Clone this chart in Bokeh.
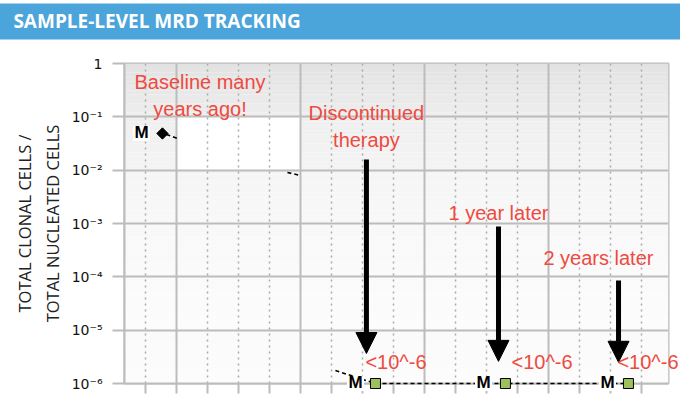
from bokeh.plotting import figure
from bokeh.models import FixedTicker, Arrow, NormalHead
from bokeh.core.properties import value
from bokeh.embed import file_html
from bokeh.resources import INLINE

# ---------------- data ----------------
title_text = "SAMPLE-LEVEL MRD TRACKING"
y_label = "TOTAL CLONAL CELLS /\nTOTAL NUCLEATED CELLS"

y_ticks = [1e-6, 1e-5, 1e-4, 1e-3, 1e-2, 1e-1, 1]
y_tick_labels = ["10⁻⁶", "10⁻⁵", "10⁻⁴", "10⁻³", "10⁻²", "10⁻¹", "1"]
x_major = [1, 2, 3, 4]
x_minor = [0.75, 1.25, 1.5, 1.75, 2.25, 2.5, 2.75, 3.25, 3.5, 3.75, 4.25, 4.5, 4.75]

baseline_x = [0.887]
baseline_y = [0.0487]

followup_x = [2.605, 3.653, 4.645]
followup_y = [1e-6, 1e-6, 1e-6]

m_x = [0.718, 2.444, 3.476, 4.476]
m_y = [0.0487, 1e-6, 1e-6, 1e-6]

# visible pieces of the dashed trend line
trend_x = [[0.919, 1.008], [1.895, 2.0], [2.282, 2.605], [2.605, 4.645]]
trend_y = [[0.0467, 0.0393], [0.00904, 0.00794], [1.75e-6, 1e-6], [1e-6, 1e-6]]

arrow_x = [2.532, 3.597, 4.565]
arrow_top = [0.0158, 8.8e-4, 8.5e-5]
arrow_tip = [3.65e-6, 2.6e-6, 2.5e-6]

note_text = ["Baseline many\nyears ago!", "Discontinued\ntherapy", "1 year later", "2 years later"]
note_x = [1.19, 2.532, 3.597, 4.403]
note_y = [0.251, 0.0659, 0.0016, 2.21e-4]

lod_text = ["<10^-6", "<10^-6", "<10^-6"]
lod_x = [2.524, 3.702, 4.556]
lod_y = [2.48e-6, 2.48e-6, 2.48e-6]

# ---------------- styles ----------------
RED = "#ef4a40"
GRID = "#bcbcbc"
FONT = "Liberation Sans"
X0, X1 = 0.581, 4.968

p = figure(width=680, height=400, x_range=(X0, X1), y_range=(1e-6, 1),
           y_axis_type="log", toolbar_location=None, output_backend="svg",
           min_border_left=124, min_border_right=12, min_border_top=63, min_border_bottom=17)
p.background_fill_color = "white"
p.border_fill_color = "white"
p.outline_line_color = GRID
p.outline_line_width = 2

# title bar (header band above the frame)
p.quad(left=[-0.5], right=[5.2], bottom=[10 ** 0.45], top=[10 ** 1.125],
       fill_color="#4ba4da", line_color=None, level="overlay")
p.text(x=[-0.315], y=[10 ** 0.79], text=[title_text], text_color="white",
       text_font=value("Open Sans"), text_font_style="bold",
       text_font_size="19px", text_baseline="middle", text_align="left",
       level="overlay")

# gradient background (styling only)
rows = [(226, 238), (239, 244), (245, 248), (248, 250), (250, 252), (250, 252)]
qb, qt, qc = [], [], []
steps = 12
for i, (c0, c1) in enumerate(rows):
    for s in range(steps):
        a = -i - s / steps
        b = -i - (s + 1) / steps
        g = int(round(c0 + (c1 - c0) * (s + 0.5) / steps))
        qt.append(10 ** a)
        qb.append(10 ** b)
        qc.append("#%02x%02x%02x" % (g, g, g))
p.quad(left=X0, right=X1, top=qt, bottom=qb, fill_color=qc,
       line_color=None, level="image")
p.quad(left=[1.0], right=[2.0], top=[10 ** -0.994], bottom=[10 ** -2.0],
       fill_color="white", line_color=None, level="image")

# axes
p.xaxis.ticker = FixedTicker(ticks=x_major, minor_ticks=x_minor)
p.xaxis.major_label_overrides = {v: "" for v in x_major}
p.xaxis.major_label_text_font_size = "1px"
p.xaxis.major_label_standoff = 0
p.xaxis.axis_line_color = GRID
p.xaxis.axis_line_width = 2
p.xaxis.major_tick_line_color = GRID
p.xaxis.major_tick_line_width = 2
p.xaxis.minor_tick_line_color = GRID
p.xaxis.minor_tick_line_width = 2
p.xaxis.major_tick_in = 0
p.xaxis.major_tick_out = 10
p.xaxis.minor_tick_in = 0
p.xaxis.minor_tick_out = 10

p.yaxis.ticker = FixedTicker(ticks=y_ticks, minor_ticks=[])
p.yaxis.major_label_overrides = dict(zip(y_ticks, y_tick_labels))
p.yaxis.major_label_text_font = "DejaVu Sans"
p.yaxis.major_label_text_font_size = "14px"
p.yaxis.major_label_text_color = "#111111"
p.yaxis.major_label_standoff = 10
p.yaxis.axis_line_color = GRID
p.yaxis.axis_line_width = 2
p.yaxis.major_tick_line_color = GRID
p.yaxis.major_tick_line_width = 2
p.yaxis.major_tick_in = 0
p.yaxis.major_tick_out = 12
p.yaxis.minor_tick_line_color = None
p.yaxis.axis_label = y_label
p.yaxis.axis_label_text_font = "Open Sans"
p.yaxis.axis_label_text_font_size = "16.5px"
p.yaxis.axis_label_text_font_style = "normal"
p.yaxis.axis_label_text_color = "#222222"
p.yaxis.axis_label_standoff = 5

# grids
p.xgrid.ticker = p.xaxis.ticker
p.xgrid.grid_line_color = GRID
p.xgrid.grid_line_width = 2
p.xgrid.minor_grid_line_color = "#aaaaaa"
p.xgrid.minor_grid_line_dash = "2 4"
p.xgrid.minor_grid_line_width = 1.5
p.ygrid.ticker = p.yaxis.ticker
p.ygrid.grid_line_color = GRID
p.ygrid.grid_line_width = 2

# dashed trend
p.multi_line(xs=trend_x, ys=trend_y, line_color="black", line_width=1.6,
             line_dash="4 3", level="overlay")

# baseline diamond
p.scatter(x=baseline_x, y=baseline_y, marker="square", angle=0.785398,
          size=8, fill_color="black", line_color="black", level="overlay")

# follow-up squares
p.scatter(x=followup_x, y=followup_y, marker="square", size=10,
          fill_color="#9dbf5c", line_color="black", line_width=1, level="overlay")

# M labels with a white halo box
p.rect(x=m_x, y=m_y, width=17, height=15, width_units="screen",
       height_units="screen", fill_color="white", line_color=None,
       level="overlay")
p.text(x=m_x, y=m_y, text=["M"] * len(m_x), text_font=value(FONT),
       text_font_style="bold", text_font_size="17px", text_color="black",
       text_align="center", text_baseline="middle", y_offset=-1,
       level="overlay")

# arrows
for ax, a0, a1 in zip(arrow_x, arrow_top, arrow_tip):
    p.add_layout(Arrow(x_start=ax, y_start=a0, x_end=ax, y_end=a1,
                       line_color="black", line_width=5,
                       end=NormalHead(size=21, fill_color="black",
                                      line_color="black", line_width=1)))

# red notes
p.text(x=note_x, y=note_y, text=note_text, text_font=value(FONT),
       text_font_size="20px", text_color=RED, text_align="center",
       text_baseline="middle", text_line_height=1.2, level="overlay")
p.text(x=lod_x, y=lod_y, text=lod_text, text_font=value(FONT),
       text_font_size="20px", text_color=RED, text_align="left",
       text_baseline="middle", level="overlay")

open("out.html", "w").write(file_html(p, INLINE))
